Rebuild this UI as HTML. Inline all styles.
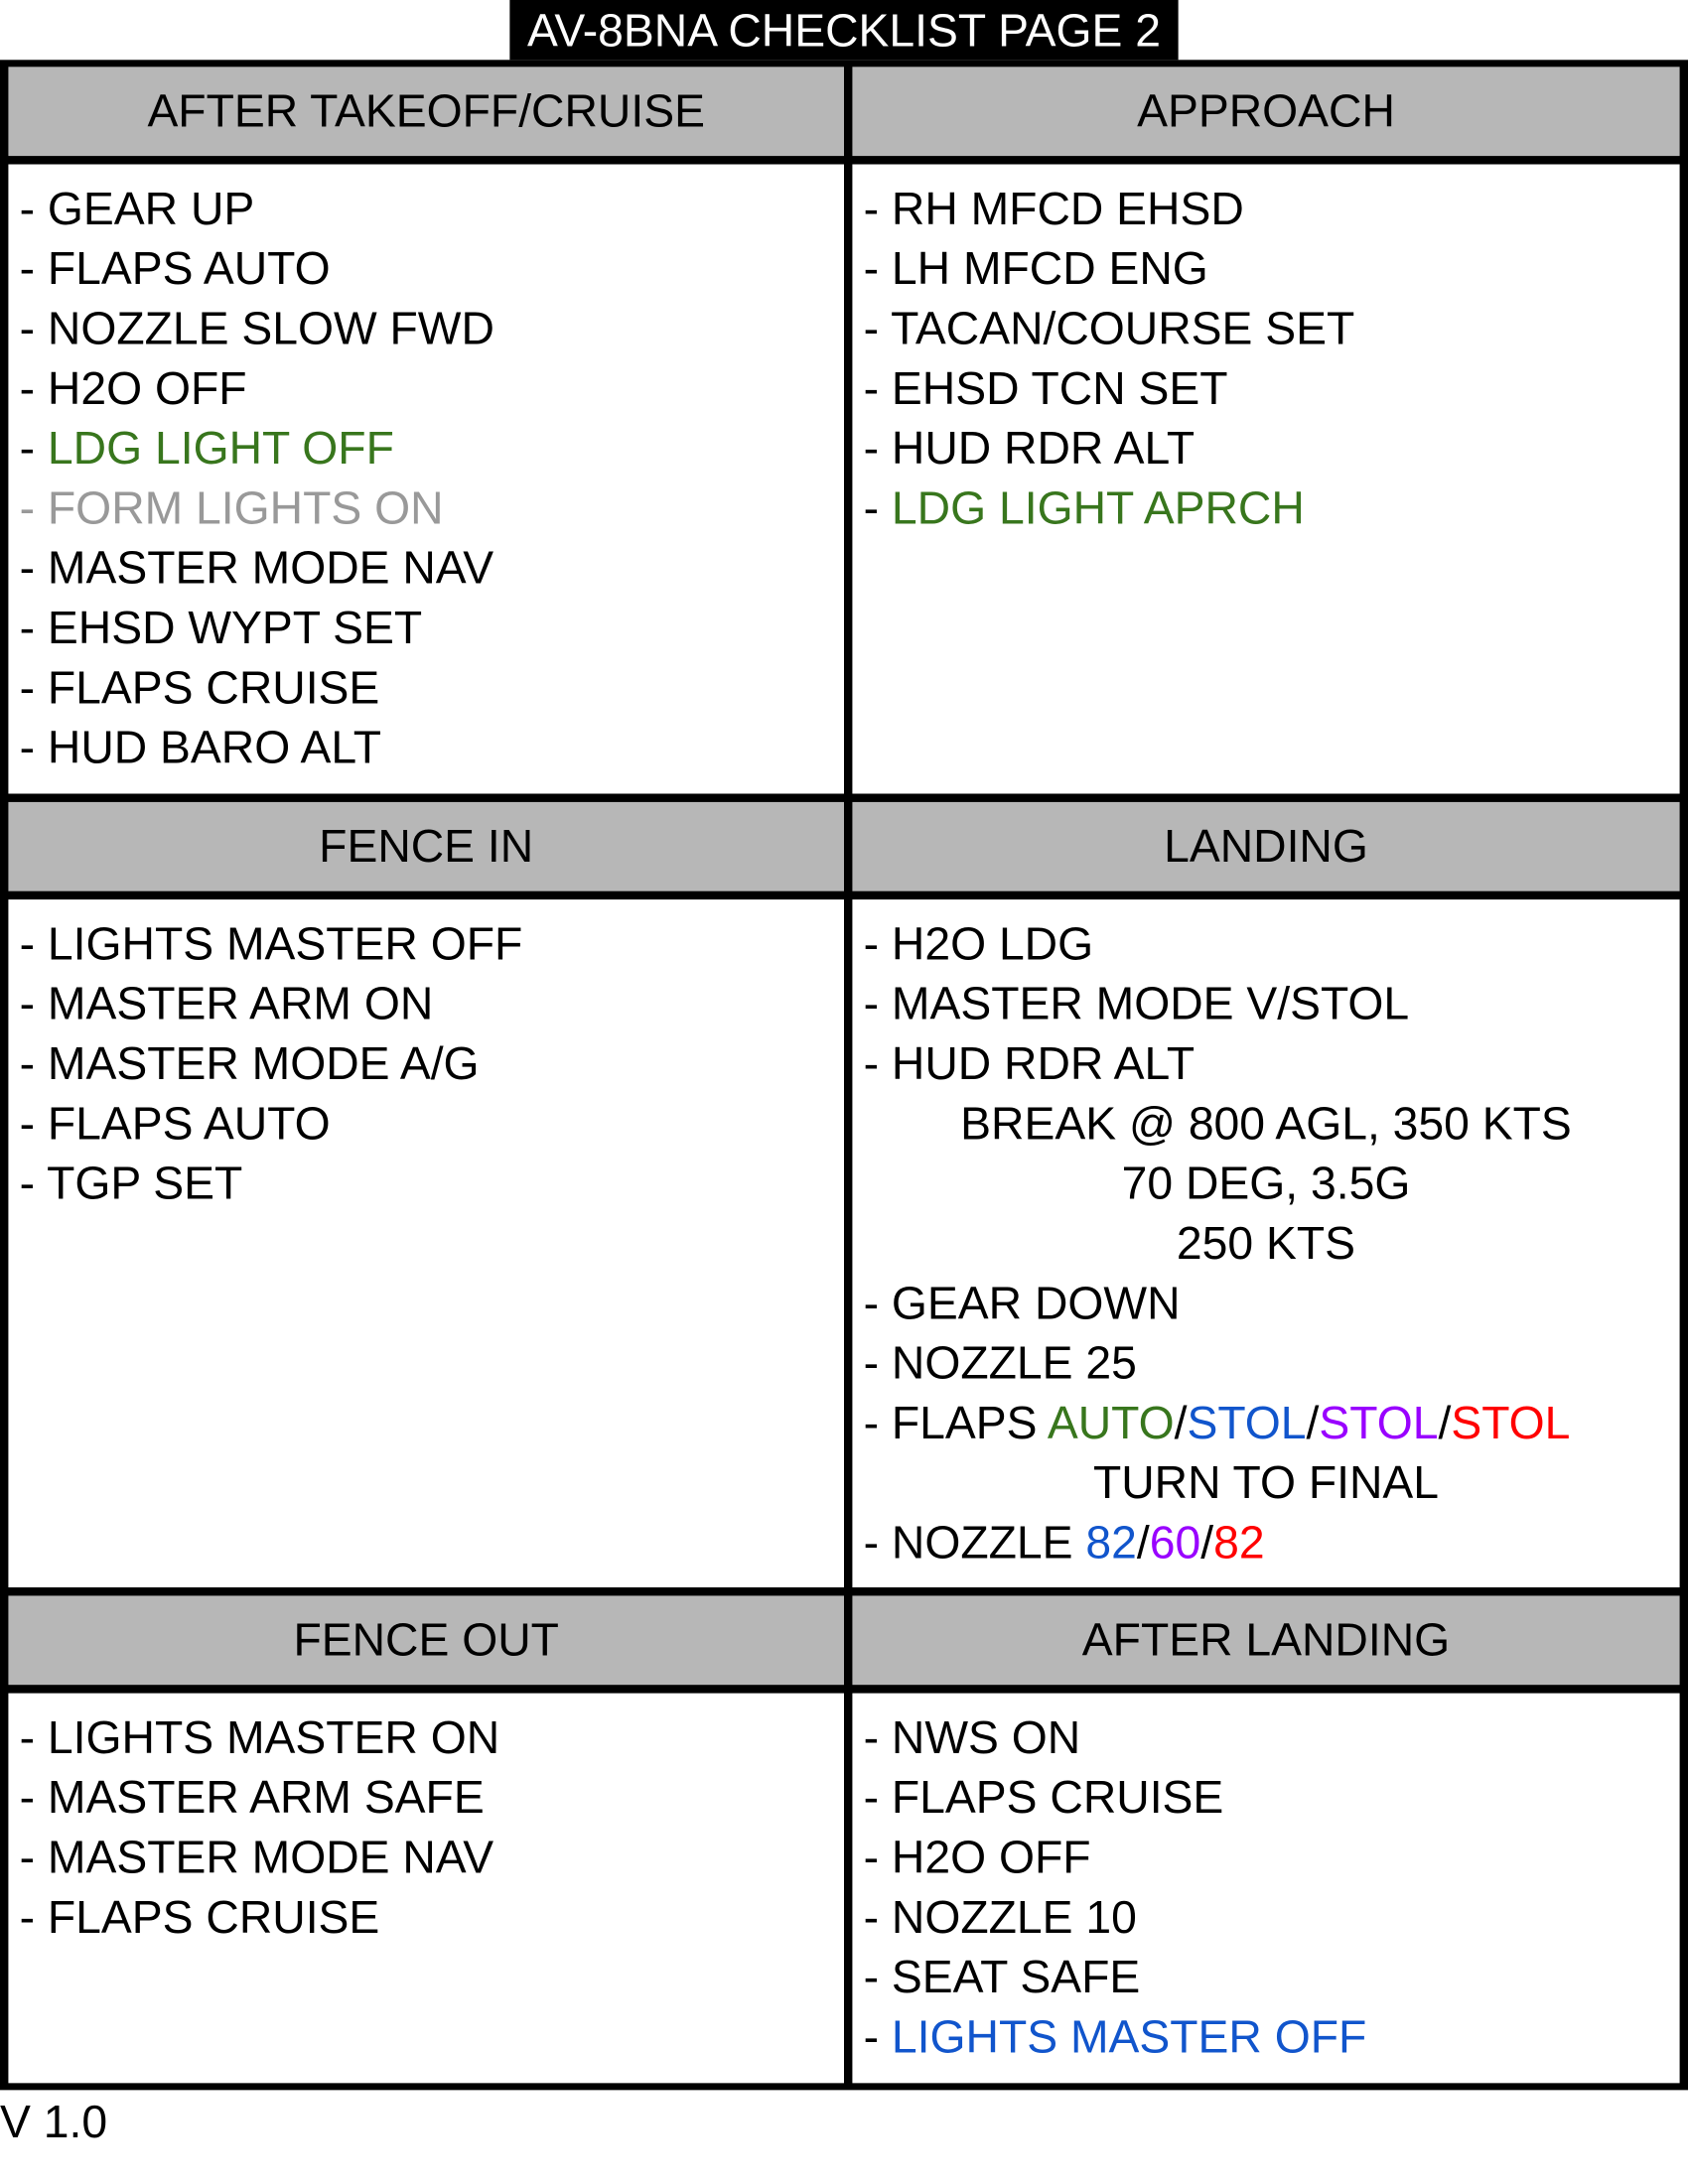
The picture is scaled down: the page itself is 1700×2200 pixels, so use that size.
<!DOCTYPE html>
<html><head><meta charset="utf-8"><style>
html,body{margin:0;padding:0;background:#fff;}
body{width:1700px;height:2200px;overflow:hidden;position:relative;}
#w{position:absolute;left:0;top:0;width:1212px;height:1568px;transform-origin:0 0;transform:scale(1.40264,1.40264);font-family:"Liberation Sans",sans-serif;color:#000;}
.b{position:absolute;background:#000;}
.h{position:absolute;background:#b7b7b7;font-size:33px;line-height:64px;text-align:center;}
.c{position:absolute;font-size:33px;line-height:43px;padding-top:10px;box-sizing:border-box;white-space:nowrap;background:#fff;padding-left:8px;}
.g{color:#38761d}.gr{color:#999}.bl{color:#1155cc}.p{color:#9900ff}.r{color:#ff0000}
</style></head><body><div id="w">
<div class="b" style="left:366px;top:0;width:480px;height:43px;color:#fff;font-size:33px;line-height:43px;text-align:center;">AV-8BNA CHECKLIST PAGE 2</div>
<div class="b" style="left:0;top:43px;width:1212px;height:1458px;"></div>
<div class="h" style="left:6px;top:48px;width:600px;height:64px;">AFTER TAKEOFF/CRUISE</div>
<div class="h" style="left:612px;top:48px;width:594px;height:64px;">APPROACH</div>
<div class="h" style="left:6px;top:576px;width:600px;height:64px;">FENCE IN</div>
<div class="h" style="left:612px;top:576px;width:594px;height:64px;">LANDING</div>
<div class="h" style="left:6px;top:1146px;width:600px;height:64px;">FENCE OUT</div>
<div class="h" style="left:612px;top:1146px;width:594px;height:64px;">AFTER LANDING</div>

<div class="c" style="left:6px;top:118px;width:600px;height:452px;">
- GEAR UP<br>- FLAPS AUTO<br>- NOZZLE SLOW FWD<br>- H2O OFF<br>- <span class="g">LDG LIGHT OFF</span><br><span class="gr">- FORM LIGHTS ON</span><br>- MASTER MODE NAV<br>- EHSD WYPT SET<br>- FLAPS CRUISE<br>- HUD BARO ALT</div>
<div class="c" style="left:612px;top:118px;width:594px;height:452px;">
- RH MFCD EHSD<br>- LH MFCD ENG<br>- TACAN/COURSE SET<br>- EHSD TCN SET<br>- HUD RDR ALT<br>- <span class="g">LDG LIGHT APRCH</span></div>

<div class="c" style="left:6px;top:646px;width:600px;height:494px;">
- LIGHTS MASTER OFF<br>- MASTER ARM ON<br>- MASTER MODE A/G<br>- FLAPS AUTO<br>- TGP SET</div>
<div class="c" style="left:612px;top:646px;width:594px;height:494px;">
- H2O LDG<br>- MASTER MODE V/STOL<br>- HUD RDR ALT<br>
<div style="text-align:center;margin-left:-8px;">BREAK @ 800 AGL, 350 KTS<br>70 DEG, 3.5G<br>250 KTS</div>
- GEAR DOWN<br>- NOZZLE 25<br>- FLAPS <span class="g">AUTO</span>/<span class="bl">STOL</span>/<span class="p">STOL</span>/<span class="r">STOL</span><br>
<div style="text-align:center;margin-left:-8px;">TURN TO FINAL</div>
- NOZZLE <span class="bl">82</span>/<span class="p">60</span>/<span class="r">82</span></div>

<div class="c" style="left:6px;top:1216px;width:600px;height:280px;">
- LIGHTS MASTER ON<br>- MASTER ARM SAFE<br>- MASTER MODE NAV<br>- FLAPS CRUISE</div>
<div class="c" style="left:612px;top:1216px;width:594px;height:280px;">
- NWS ON<br>- FLAPS CRUISE<br>- H2O OFF<br>- NOZZLE 10<br>- SEAT SAFE<br>- <span class="bl">LIGHTS MASTER OFF</span></div>

<div style="position:absolute;left:0;top:1502px;font-size:33px;line-height:43px;">V 1.0</div>
</div></body></html>
